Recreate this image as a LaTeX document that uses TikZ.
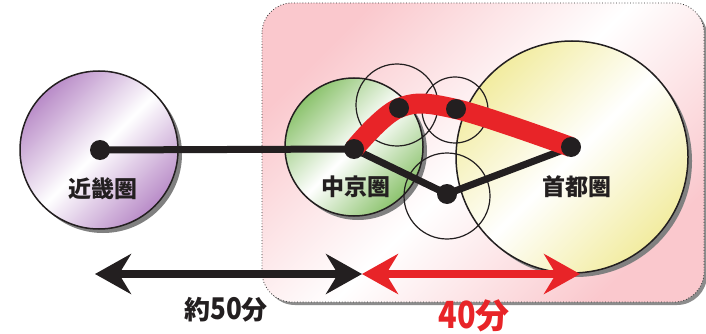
\documentclass[tikz,border=0pt]{standalone}
\usepackage{fontspec}
\newfontfamily\jp{Noto Sans CJK JP}
\usetikzlibrary{arrows.meta}
\definecolor{txt}{RGB}{35,31,32}
\definecolor{pinkbg}{RGB}{250,200,205}
\definecolor{purp}{RGB}{185,140,200}
\definecolor{grn}{RGB}{140,195,110}
\definecolor{yel}{RGB}{242,236,160}
\definecolor{redc}{RGB}{232,36,40}
\tikzset{
  shadowc/.style={fill=black!50, draw=none},
  bigc/.style={top color=#1, bottom color=#1, middle color=white, shading angle=45},
  ring/.style={draw=txt, line width=1.5pt},
  thinc/.style={draw=txt, line width=1.2pt},
  dot/.style={circle, fill=txt, inner sep=0pt, minimum size=20pt},
  blk/.style={draw=txt, line width=7pt, line join=round},
  lbl/.style={font=\jp\bfseries, text=txt, inner sep=0pt},
  dblarrow/.style={line width=8pt, {Stealth[length=36pt,width=40pt,inset=12pt]}-{Stealth[length=36pt,width=40pt,inset=12pt]}}
}
\begin{document}
\begin{tikzpicture}[x=1pt,y=-1pt]
\useasboundingbox (0,0) rectangle (706,334);
% background region
\fill[black!45, rounded corners=30pt] (265,6) rectangle (707,305);
\shade[bigc=pinkbg, rounded corners=30pt] (262,3) rectangle (704,302);
\draw[black!80, dotted, line width=0.8pt, rounded corners=30pt] (262,3) rectangle (704,302);
% big circles with shadows
\fill[shadowc] (103,154) circle[radius=79];
\shade[bigc=purp] (99,150) circle[radius=79];
\draw[ring] (99,150) circle[radius=79];
\fill[shadowc] (358,151) circle[radius=69];
\shade[bigc=grn] (354,147) circle[radius=69];
\draw[ring] (354,147) circle[radius=69];
\fill[shadowc] (576,161) circle[radius=116];
\shade[bigc=yel] (572,157) circle[radius=116];
\draw[ring] (572,157) circle[radius=116];
% thin circles
\draw[thinc] (397,105) circle[radius=41];
\draw[thinc] (455,110) circle[radius=33];
\draw[thinc] (447,196) circle[radius=43];
% points
\coordinate (kk) at (100,150);
\coordinate (zk) at (354,149);
\coordinate (pa) at (399,108);
\coordinate (pb) at (456,109);
\coordinate (pc) at (447,194);
\coordinate (sd) at (571,147);
% black connections
\draw[blk] (kk) -- (zk);
\draw[blk] (zk) -- (pc) -- (sd);
% red route
\draw[redc, line width=20pt] plot[smooth, tension=0.6] coordinates {(zk) (pa) (pb) (sd)};
% dots
\node[dot] (kkd) at (kk) {};
\node[dot] (zkd) at (zk) {};
\node[dot] (pad) at (pa) {};
\node[dot] (pbd) at (pb) {};
\node[dot] (pcd) at (pc) {};
\node[dot] (sdd) at (sd) {};
% labels
\node[lbl, font=\jp\bfseries\fontsize{23}{23}\selectfont] (kkl) at (103,189) {近畿圏};
\node[lbl, font=\jp\bfseries\fontsize{23}{23}\selectfont] (zkl) at (356,187) {中京圏};
\node[lbl, font=\jp\bfseries\fontsize{23}{23}\selectfont] (sdl) at (577,187) {首都圏};
% arrows
\coordinate (a1) at (95,274);
\coordinate (a2) at (362,274);
\coordinate (a3) at (580,274);
\draw[dblarrow, draw=txt, fill=txt] (a1) -- (a2);
\draw[dblarrow, draw=redc, fill=redc] (a2) -- (a3);
\node[lbl, font=\jp\bfseries\fontsize{26}{26}\selectfont] (t50) at (226,310) {約\scalebox{1}[1.15]{50}分};
\node[lbl, text=redc, font=\jp\bfseries\fontsize{34}{34}\selectfont] (t40) at (474,316) {\scalebox{0.9}[1.1]{40}分};
\end{tikzpicture}
\end{document}
